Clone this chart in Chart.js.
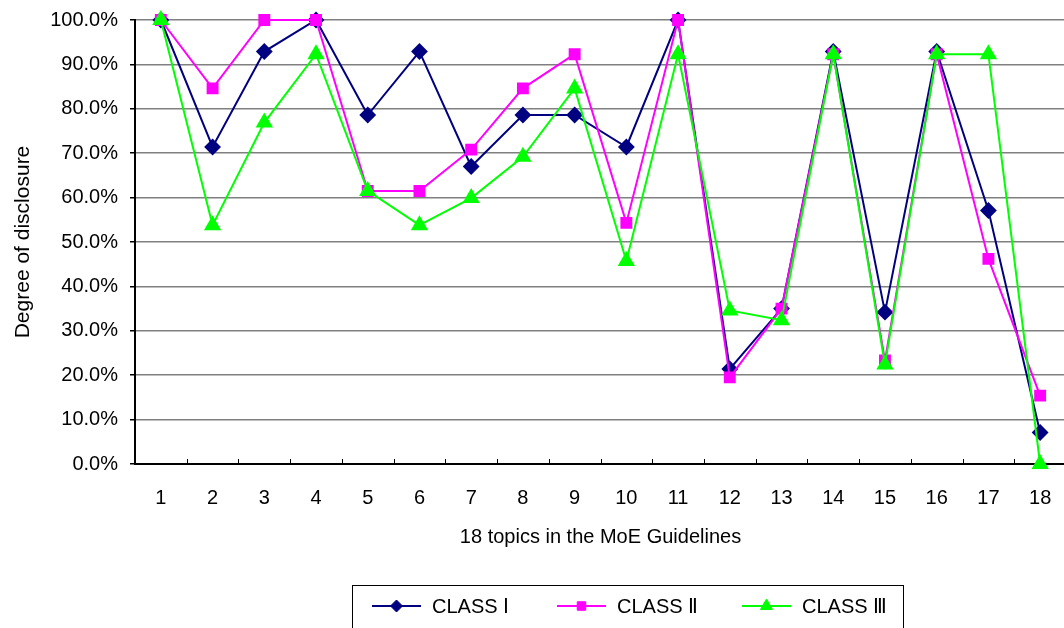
<!DOCTYPE html>
<html>
<head>
<meta charset="utf-8">
<script src="https://cdn.jsdelivr.net/npm/chart.js@4/dist/chart.umd.min.js"></script>
<style>
  html, body { margin: 0; padding: 0; background: #fff; overflow: hidden; }
  #wrap { width: 1076px; height: 628px; }
</style>
</head>
<body>
<div id="wrap"><canvas id="disclosureChart" width="1076" height="628"></canvas></div>
<script>
const topics = ["1","2","3","4","5","6","7","8","9","10","11","12","13","14","15","16","17","18"];
const classOne   = [100, 71.4, 92.9, 100, 78.6, 92.9, 67.0, 78.6, 78.6, 71.4, 100, 21.4, 35.0, 92.9, 34.2, 92.9, 57.1, 7.1];
const classTwo   = [100, 84.6, 100, 100, 61.5, 61.5, 70.8, 84.6, 92.3, 54.3, 100, 19.5, 35.0, 92.3, 23.3, 92.3, 46.2, 15.4];
const classThree = [100, 53.8, 76.9, 92.3, 61.5, 53.8, 59.9, 69.2, 84.6, 45.7, 92.3, 34.6, 32.4, 92.3, 22.4, 92.3, 92.3, 0];
const yTicks = [0, 10, 20, 30, 40, 50, 60, 70, 80, 90, 100];

const FONT = "'Liberation Sans', Arial, sans-serif";

// small tick marks pointing up from the x axis, between categories
const innerTicks = {
    id: 'innerTicks',
    beforeDatasetsDraw(chart) {
        const xs = chart.scales.x;
        const ctx = chart.ctx;
        const bottom = chart.chartArea.bottom;
        ctx.save();
        ctx.strokeStyle = '#000';
        ctx.lineWidth = 1;
        for (let i = 1; i < topics.length; i++) {
            const x = Math.round((xs.getPixelForValue(i - 1) + xs.getPixelForValue(i)) / 2) + 0.5;
            ctx.beginPath();
            ctx.moveTo(x, bottom);
            ctx.lineTo(x, bottom - 5);
            ctx.stroke();
        }
        ctx.restore();
    }
};

// boxed legend like the spreadsheet one, line + marker + text
const boxLegend = {
    id: 'boxLegend',
    afterDraw(chart) {
        const ctx = chart.ctx;
        const itemX = [372, 557, 742];
        const y = 606;
        ctx.save();
        ctx.strokeStyle = '#000';
        ctx.lineWidth = 1;
        ctx.strokeRect(352.5, 585.5, 551, 60);
        chart.data.datasets.forEach((ds, i) => {
            const x0 = itemX[i];
            ctx.strokeStyle = ds.borderColor;
            ctx.lineWidth = 2;
            ctx.beginPath();
            ctx.moveTo(x0, y);
            ctx.lineTo(x0 + 49, y);
            ctx.stroke();
            ctx.fillStyle = ds.pointBackgroundColor;
            ctx.strokeStyle = ds.pointBorderColor;
            ctx.lineWidth = 1;
            Chart.helpers.drawPoint(ctx, {
                pointStyle: ds.pointStyle,
                radius: ds.pointRadius - 1,
                borderWidth: 1
            }, x0 + 24.5, y);
            ctx.fillStyle = '#000';
            ctx.font = '20px ' + FONT;
            ctx.textBaseline = 'middle';
            ctx.fillText(ds.label, x0 + 60, y + 1);
        });
        ctx.restore();
    }
};

function series(label, data, color, style, radius, order) {
    return {
        label, data, order,
        borderColor: color,
        backgroundColor: color,
        pointBackgroundColor: color,
        pointBorderColor: color,
        borderWidth: 2,
        pointStyle: style,
        pointRadius: radius,
        pointHoverRadius: radius,
        tension: 0,
        clip: false
    };
}

Chart.defaults.font.family = FONT;
Chart.defaults.color = '#000';

new Chart(document.getElementById('disclosureChart').getContext('2d'), {
    type: 'line',
    data: {
        labels: topics,
        datasets: [
            series('CLASS Ⅰ', classOne, '#000080', 'rectRot', 7, 2),
            series('CLASS Ⅱ', classTwo, '#FF00FF', 'rect', 7, 1),
            series('CLASS Ⅲ', classThree, '#00FF00', 'triangle', 8, 0)
        ]
    },
    options: {
        responsive: false,
        animation: false,
        events: [],
        layout: { padding: { top: 20, right: 1, left: 0, bottom: 0 } },
        plugins: {
            legend: { display: false },
            tooltip: { enabled: false }
        },
        scales: {
            x: {
                offset: true,
                grid: { display: false, offset: true },
                border: { display: true, color: '#000', width: 2 },
                ticks: { font: { size: 20 }, padding: 14, maxRotation: 0, autoSkip: false },
                title: {
                    display: true,
                    text: '18 topics in the MoE Guidelines',
                    font: { size: 20 },
                    padding: { top: 10, bottom: 79 }
                },
                afterFit: s => { s.height = 164; }
            },
            y: {
                min: 0,
                max: 100,
                afterBuildTicks: s => { s.ticks = yTicks.map(v => ({ value: v })); },
                grid: { color: '#808080', lineWidth: 1.5, tickLength: 5, tickColor: '#000' },
                border: { display: true, color: '#000', width: 2 },
                ticks: {
                    font: { size: 20 },
                    padding: 12,
                    callback: v => v.toFixed(1) + '%'
                },
                title: {
                    display: true,
                    text: 'Degree of disclosure',
                    font: { size: 21 },
                    padding: { top: 11, bottom: 0 }
                },
                afterFit: s => { s.width = 135; s.paddingTop = 0; s.paddingBottom = 0; }
            }
        }
    },
    plugins: [innerTicks, boxLegend]
});
</script>
</body>
</html>
